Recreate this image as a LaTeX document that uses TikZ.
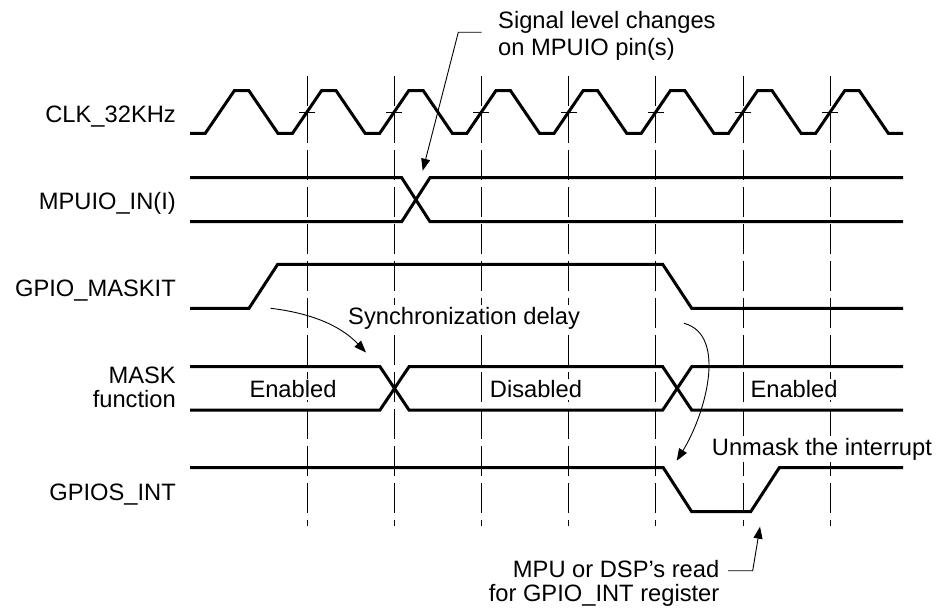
\documentclass[tikz,border=0pt]{standalone}
\usepackage{fontspec}
\setmainfont{Liberation Sans}
\usetikzlibrary{arrows.meta}
\begin{document}
\begin{tikzpicture}[x=1pt,y=-1pt,
  trace/.style={line width=3pt, line join=miter},
  gridline/.style={line width=0.9pt, dash pattern=on 30pt off 7pt},
  tickmark/.style={line width=0.9pt},
  pointer/.style={line width=0.9pt, -{Triangle[length=12pt,width=9pt]}},
  lbl/.style={font=\fontsize{23.7}{26}\selectfont, inner sep=0pt},
  tag/.style={font=\fontsize{23.7}{26}\selectfont, inner sep=2pt, fill=white},
]
\useasboundingbox (0,0) rectangle (939,610);

% clock-edge reference lines
\foreach \k in {0,...,6}
  \draw[gridline] ({307+\k*87.2},76) -- ({307+\k*87.2},526);

% signal names
\node[lbl, anchor=base east] (nclk)  at (176,122.3) {CLK\_32KHz};
\node[lbl, anchor=base east] (nin)   at (176,209)   {MPUIO\_IN(I)};
\node[lbl, anchor=base east] (nmsk)  at (176,296)   {GPIO\_MASKIT};
\node[lbl, anchor=base east, align=right, font=\fontsize{23.7}{24.4}\selectfont]
      (nfun) at (176,407.7) {MASK\\function};
\node[lbl, anchor=base east] (nint)  at (176,500)   {GPIOS\_INT};

% state labels inside the MASK bus
\node[tag, anchor=base] (en1) at (293,397.7) {Enabled};
\node[tag, anchor=base] (dis) at (536,397.7) {Disabled};
\node[tag, anchor=base] (en2) at (794,397.7) {Enabled};

% annotations
\node[tag, anchor=base west] (sync) at (346,324.3) {Synchronization delay};
\node[tag, anchor=base west] (unm)  at (709.7,455) {Unmask the interrupt};
\node[lbl, anchor=base west, align=left, font=\fontsize{23.7}{27.2}\selectfont]
      (sig) at (498,55.5) {Signal level changes\\on MPUIO pin(s)};
\node[lbl, anchor=base east, align=right, font=\fontsize{23.7}{23.5}\selectfont]
      (rd) at (719.5,601) {MPU or DSP’s read\\for GPIO\_INT register};

% CLK_32KHz
\draw[trace] (190,133.3)
  \foreach \k in {-1,...,6} {
    -- ({307+\k*87.2-14.5},133.3) -- ({307+\k*87.2+14.5},90.7)
    -- ({307+\k*87.2+29.1},90.7)  -- ({307+\k*87.2+58.1},133.3) }
  -- (903,133.3);
\foreach \k in {0,...,6}
  \draw[tickmark] ({307+\k*87.2-8},112) -- ({307+\k*87.2+8},112);

% MPUIO_IN(I)
\draw[trace] (190,177.7) -- (401.7,177.7) -- (430,221.7) -- (903,221.7);
\draw[trace] (190,221.7) -- (401.7,221.7) -- (430,177.7) -- (903,177.7);

% GPIO_MASKIT
\draw[trace] (190,308.3) -- (249,308.3) -- (277.7,264.3) -- (662.7,264.3)
  -- (691.7,308.3) -- (903,308.3);

% MASK function bus
\draw[trace] (190,366.7) -- (380,366.7) -- (409,410) -- (662.7,410)
  -- (691.7,366.7) -- (903,366.7);
\draw[trace] (190,410) -- (380,410) -- (409,366.7) -- (662.7,366.7)
  -- (691.7,410) -- (903,410);

% GPIOS_INT
\draw[trace] (190,467.7) -- (663.3,467.7) -- (691.7,511.7) -- (750.7,511.7)
  -- (779.3,467.7) -- (903,467.7);

% pointers
\coordinate (sigA) at (481.7,32.3);
\coordinate (sigB) at (458.3,32.3);
\coordinate (sigTip) at (422.7,170.7);
\draw[pointer] (sigA) -- (sigB) -- (sigTip);

\coordinate (syncA) at (270.7,308.3);
\coordinate (syncTip) at (366,352.5);
\draw[pointer] (syncA) .. controls (310,313) and (340,325) .. (syncTip);

\coordinate (unA) at (684,323.3);
\coordinate (unTip) at (676.7,460.7);
\draw[pointer] (unA) .. controls (728,335) and (705,415) .. (unTip);

\coordinate (rdA) at (728,570.7);
\coordinate (rdB) at (752.7,570.7);
\coordinate (rdTip) at (760,526.7);
\draw[pointer] (rdA) -- (rdB) -- (rdTip);
\end{tikzpicture}
\end{document}
